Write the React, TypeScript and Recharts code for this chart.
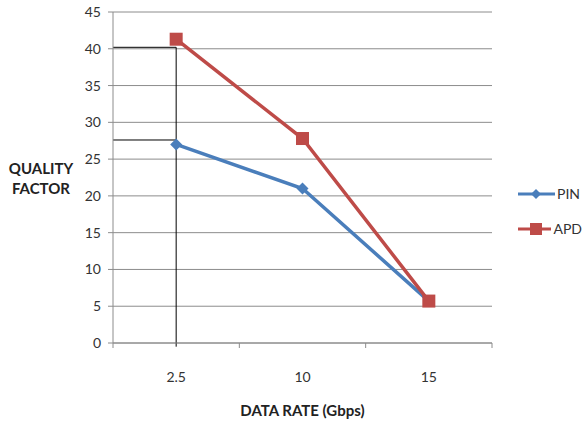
import React from 'react';
import { LineChart, Line, XAxis, YAxis, CartesianGrid, Legend, ReferenceLine } from 'recharts';

const categories = ['2.5', '10', '15'];
const pinValues = [27, 21, 5.7];
const apdValues = [41.3, 27.8, 5.7];
const yTicks = [0, 5, 10, 15, 20, 25, 30, 35, 40, 45];
const xBoundaries = [0, 1, 2, 3];
const guideApd = 40.2;
const guidePin = 27.6;

const data = categories.map((c, i) => ({ x: i + 0.5, cat: c, PIN: pinValues[i], APD: apdValues[i] }));

const FONT = 'Lato, "Open Sans", sans-serif';
const BLUE = '#4a7ebb';
const RED = '#be4b48';
const GRID = '#8c8c8c';

const W = 584;
const H = 423;
const M = { top: 12, right: 2, bottom: 20, left: 53 };
const LEGEND_W = 90;
const HALF_BAND = (W - (M.left + 60) - (M.right + LEGEND_W)) / categories.length / 2;

const XTick = (props: any) => {
  const { x, y, payload, index } = props;
  if (index >= categories.length) return null;
  return (
    <text x={x + HALF_BAND} y={y + 32} textAnchor="middle" fill="#333" fontSize={14} fontFamily={FONT}>
      {categories[payload.value]}
    </text>
  );
};

const Diamond = (props: any) => {
  const { cx, cy } = props;
  if (cx == null || cy == null) return null;
  const s = 6;
  return <path d={`M${cx},${cy - s}L${cx + s},${cy}L${cx},${cy + s}L${cx - s},${cy}Z`} fill={BLUE} />;
};

const Square = (props: any) => {
  const { cx, cy } = props;
  if (cx == null || cy == null) return null;
  const s = 6.5;
  return <rect x={cx - s} y={cy - s} width={2 * s} height={2 * s} fill={RED} />;
};

const LegendContent = () => (
  <div style={{ width: LEGEND_W, fontFamily: FONT, fontSize: 14, color: '#333' }}>
    {[
      { name: 'PIN', color: BLUE, kind: 'd' },
      { name: 'APD', color: RED, kind: 's' },
    ].map((it) => (
      <div key={it.name} style={{ display: 'flex', alignItems: 'center', height: 35, paddingLeft: 26 }}>
        <svg width={37} height={14} style={{ display: 'block' }}>
          <line x1={0} y1={7} x2={37} y2={7} stroke={it.color} strokeWidth={3} />
          {it.kind === 'd' ? (
            <path d="M18,2L23,7L18,12L13,7Z" fill={it.color} />
          ) : (
            <rect x={12} y={1} width={12} height={12} fill={it.color} />
          )}
        </svg>
        <span style={{ marginLeft: 2 }}>{it.name}</span>
      </div>
    ))}
  </div>
);

export default function App() {
  return (
    <div style={{ position: 'absolute', left: 0, top: 0, width: W, height: H, background: '#fff' }}>
      <LineChart width={W} height={H} data={data} margin={M}>
        <CartesianGrid vertical={false} stroke={GRID} strokeWidth={1} />
        <XAxis
          dataKey="x"
          type="number"
          domain={[0, 3]}
          ticks={xBoundaries}
          tick={<XTick />}
          tickSize={5}
          stroke={GRID}
          height={60}
          interval={0}
          label={{
            content: (p: any) => {
              const vb = p.viewBox;
              return (
                <text x={vb.x + vb.width / 2} y={vb.y + 73} textAnchor="middle" fontWeight="bold" fontSize={15} fill="#222" fontFamily={FONT}>
                  DATA RATE (Gbps)
                </text>
              );
            },
          }}
        />
        <YAxis
          type="number"
          domain={[0, 45]}
          ticks={yTicks}
          width={60}
          tickSize={5}
          tickMargin={7}
          stroke={GRID}
          tick={{ fill: '#333', fontSize: 14, fontFamily: FONT }}
          interval={0}
          label={{
            content: () => (
              <text textAnchor="middle" fontWeight="bold" fontSize={15} fill="#222" fontFamily={FONT}>
                <tspan x={41} y={174}>QUALITY</tspan>
                <tspan x={41} y={194}>FACTOR</tspan>
              </text>
            ),
          }}
        />
        <ReferenceLine
          segment={[{ x: 0, y: guideApd }, { x: 0.5, y: guideApd }]}
          stroke="#000"
          strokeWidth={1}
          ifOverflow="visible"
        />
        <ReferenceLine
          segment={[{ x: 0, y: guidePin }, { x: 0.5, y: guidePin }]}
          stroke="#000"
          strokeWidth={1}
          ifOverflow="visible"
        />
        <ReferenceLine
          segment={[{ x: 0.5, y: guideApd }, { x: 0.5, y: -0.5 }]}
          stroke="#000"
          strokeWidth={1}
          ifOverflow="visible"
        />
        <Line dataKey="PIN" stroke={BLUE} strokeWidth={3.5} dot={<Diamond />} activeDot={false} isAnimationActive={false} />
        <Line dataKey="APD" stroke={RED} strokeWidth={3.5} dot={<Square />} activeDot={false} isAnimationActive={false} />
        <Legend
          layout="vertical"
          align="right"
          verticalAlign="top"
          content={<LegendContent />}
          wrapperStyle={{ top: 176 }}
        />
      </LineChart>
    </div>
  );
}
